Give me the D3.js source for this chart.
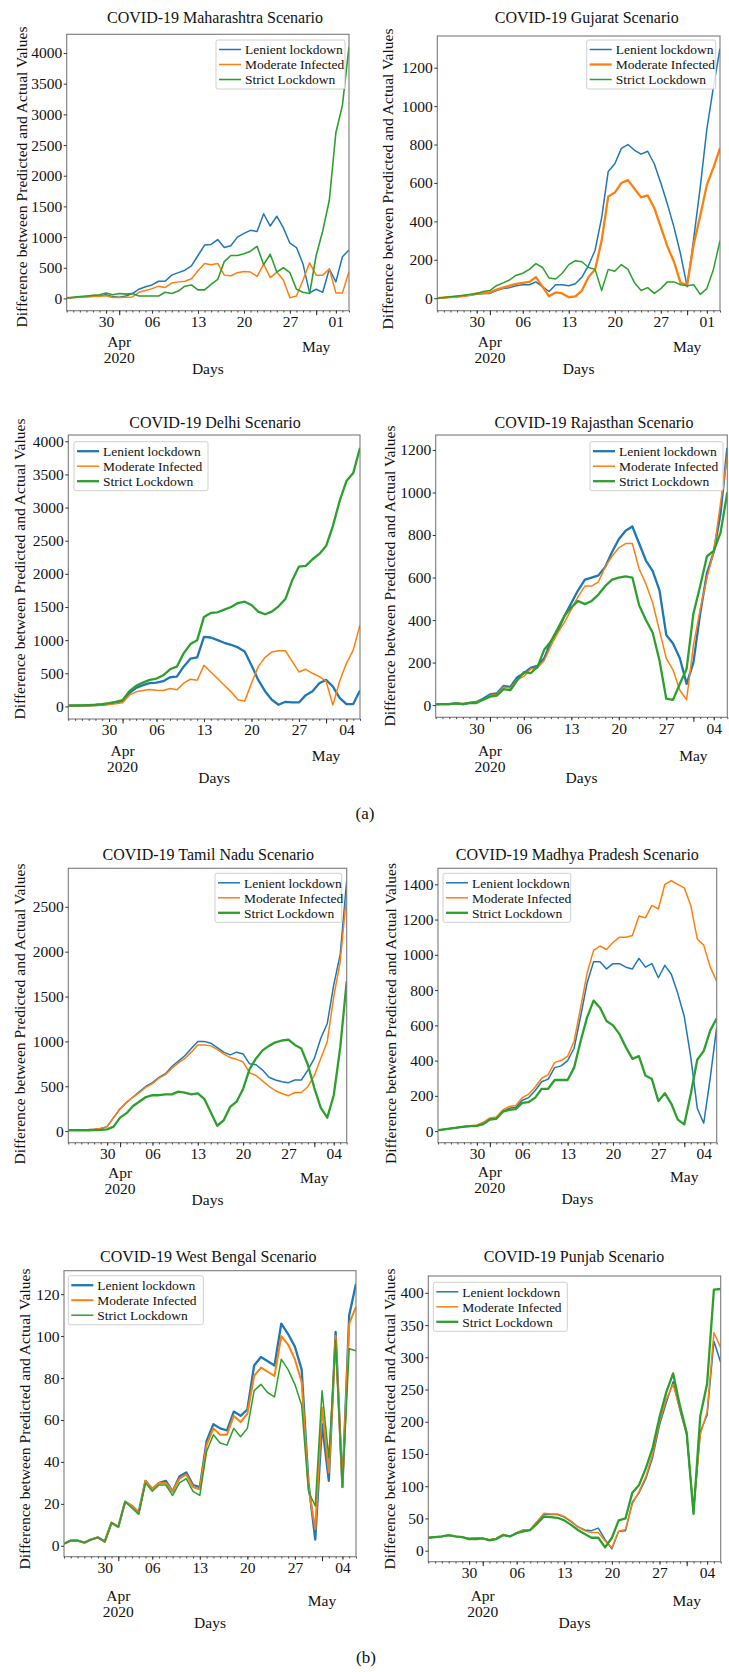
<!DOCTYPE html>
<html>
<head>
<meta charset="utf-8">
<script src="https://cdnjs.cloudflare.com/ajax/libs/d3/7.8.5/d3.min.js"></script>
<style>
  body { margin: 0; background: #fff; }
  text { font-family: "Liberation Serif", "Times New Roman", serif; fill: #111; }
</style>
</head>
<body>
<svg id="chart" width="729" height="1672"></svg>
<script>
// daily values, 24 Mar 2020 .. 06 May 2020 (44 days)
const startDate = new Date(2020, 2, 24);
const seriesNames = ["Lenient lockdown", "Moderate Infected", "Strict Lockdown"];
const colors = ["#1f77b4", "#ff7f0e", "#2ca02c"];

const states = ["Maharashtra", "Gujarat", "Delhi", "Rajasthan", "Tamil Nadu", "Madhya Pradesh", "West Bengal", "Punjab"];
const weekLabelsA = ["30", "06", "13", "20", "27", "01"];
const weekLabelsB = ["30", "06", "13", "20", "27", "04"];
const yStep = [500, 200, 500, 200, 500, 200, 20, 50];

const maharashtra = [
  [5,15,25,30,35,45,60,30,20,40,80,150,190,220,280,280,380,420,460,530,700,870,880,960,830,860,1000,1060,1110,1090,1380,1180,1340,1150,900,830,560,90,150,100,480,270,680,790],
  [5,10,20,25,30,35,45,15,15,20,25,100,130,160,200,180,250,270,280,320,450,570,550,570,380,370,420,440,430,360,560,340,430,300,10,40,300,580,380,380,480,90,90,440],
  [10,20,30,40,50,60,90,60,80,70,80,40,40,40,40,100,80,120,200,220,140,140,230,310,600,700,700,730,770,850,550,720,430,500,420,150,100,80,700,1100,1600,2700,3150,4100]
];
const gujarat = [
  [0,3,6,8,10,15,20,25,25,40,50,55,65,70,70,85,60,35,70,70,65,75,110,170,250,420,660,700,780,800,770,750,765,700,600,490,370,230,60,310,580,880,1100,1300],
  [0,3,6,8,12,18,25,25,30,45,55,65,75,80,85,110,60,10,30,25,5,10,40,110,150,300,530,550,600,615,570,525,535,470,370,270,190,80,70,280,430,590,680,780],
  [0,4,8,12,16,20,25,35,40,65,80,95,120,130,150,180,160,105,100,130,175,195,190,160,150,40,150,140,175,150,80,40,55,25,50,85,85,70,65,70,20,50,150,300]
];
const delhi = [
  [10,10,12,15,20,25,40,60,80,200,280,320,350,360,380,440,450,600,720,740,1050,1040,1000,960,930,890,830,620,400,230,100,25,70,60,60,170,230,350,400,300,130,35,35,240],
  [5,8,10,12,15,20,30,40,55,170,220,240,255,245,240,270,250,350,410,395,620,520,420,320,220,100,80,350,600,740,820,840,840,680,520,560,500,450,380,20,380,650,850,1230],
  [10,15,15,20,25,35,50,70,95,230,310,360,400,420,470,560,600,800,940,1000,1350,1410,1420,1460,1500,1560,1580,1530,1430,1390,1430,1510,1620,1900,2110,2120,2220,2300,2420,2720,3100,3400,3520,3900]
];
const rajasthan = [
  [5,5,5,8,5,10,15,30,50,55,90,85,130,150,175,185,220,300,350,420,480,540,590,600,610,650,720,780,820,840,760,680,630,540,330,290,220,100,200,430,620,720,900,1210],
  [5,5,5,8,8,10,15,25,45,50,85,80,120,135,170,175,210,280,340,390,450,510,560,560,580,650,700,740,760,760,640,570,480,350,220,165,70,25,280,450,600,720,950,1170],
  [3,5,5,8,5,10,10,25,40,45,75,70,115,155,150,180,260,300,360,420,460,490,475,490,520,560,590,600,605,600,470,400,340,210,30,25,100,170,430,560,700,725,810,1000]
];
const tamilNadu = [
  [10,10,12,15,20,30,50,150,250,320,380,440,500,540,600,640,720,780,840,920,1000,1000,980,930,880,850,880,860,750,740,680,600,570,550,540,570,570,680,810,1035,1200,1630,1970,2790],
  [10,10,12,15,20,30,50,150,250,320,380,430,490,530,590,630,700,760,810,880,960,960,950,910,860,820,800,770,650,620,560,500,450,420,395,430,430,495,620,810,1000,1500,1890,2640],
  [10,10,10,10,12,15,20,50,150,200,280,330,380,400,400,410,410,440,430,410,420,360,210,60,120,270,330,470,690,810,900,950,990,1010,1020,960,920,740,480,260,150,400,930,1670]
];
const madhyaPradesh = [
  [5,10,15,20,25,28,30,45,70,75,110,130,135,175,190,230,280,295,360,370,400,470,650,840,960,960,920,950,950,930,920,980,930,950,870,940,890,780,650,420,130,45,300,590],
  [5,10,15,20,25,30,35,50,75,80,120,140,145,190,210,250,300,320,390,400,425,510,700,895,1025,1050,1030,1070,1100,1100,1110,1220,1210,1280,1260,1400,1420,1400,1380,1280,1090,1055,930,850],
  [5,10,15,20,25,28,30,40,65,70,110,120,125,160,165,190,240,240,290,290,290,360,510,645,740,700,625,600,550,475,410,425,315,295,170,215,155,65,38,210,405,455,570,640]
];
const westBengal = [
  [1,2.5,2.5,1.5,3,4,2,11,9,21,19,16,31,27,30,31,26,33,35,29,28,50,58,56,55,64,62,65,86,90,88,86,106,101,95,84,30,3,58,31,102,28,110,125],
  [1,2.5,2.5,1.5,3,4,2,11,9,21,19,15.5,31,27,30,30,26,32,34,28,27,48,56,53,53,62,59,63,81,85,83,81,100,96,89,78,28,8,66,35,100,28,106,114],
  [1,2.5,2.5,1.5,3,4,2,11,9,21,18,15,30,26,29,29,24,30,32,26,24,45,53,49,48,56,52,56,74,77,73,71,89,84,77,67,26,19,74,42,98,28,94,93]
];
const punjab = [
  [20,21,22,24,22,21,19,20,19,17,19,25,22,28,32,33,45,57,56,56,52,45,37,32,31,35,17,3,30,31,75,90,112,145,195,230,262,218,180,60,185,210,325,292],
  [20,21,22,24,22,21,19,20,19,17,19,25,22,28,32,33,45,58,57,57,53,46,37,31,28,28,15,5,30,33,72,92,115,150,200,235,258,220,180,62,180,215,338,315],
  [20,21,22,24,22,21,18,18,19,16,18,24,22,27,30,32,42,53,52,51,47,40,32,26,20,20,5,20,47,50,90,102,128,160,207,246,275,225,183,57,209,259,405,406]
];

const allData = [maharashtra, gujarat, delhi, rajasthan, tamilNadu, madhyaPradesh, westBengal, punjab];

// panel placement in the page
const panels = [
  { x0: 66.7, x1: 349, y0: 34.3, y1: 310.7, tx: 215, ty: 17, lx: 21.7, lcy: 177, aprDy: 31, leg: [216, 40, 129], lw: [1.5, 1.5, 1.6], weeks: weekLabelsA },
  { x0: 437.3, x1: 720, y0: 36, y1: 310.7, tx: 586.7, ty: 17, lx: 387.3, lcy: 179, aprDy: 31, leg: [586.7, 40, 129], lw: [1.5, 2.3, 1.5], weeks: weekLabelsA },
  { x0: 68.3, x1: 360, y0: 435, y1: 719, tx: 215, ty: 422.7, lx: 20, lcy: 569, aprDy: 31.7, leg: [74, 441.7, 134], lw: [2.3, 1.5, 2.3], weeks: weekLabelsB },
  { x0: 435.7, x1: 727.3, y0: 435, y1: 717.3, tx: 594, ty: 422.7, lx: 390, lcy: 576, aprDy: 33.4, leg: [590, 441.7, 133], lw: [2.3, 1.5, 2.3], weeks: weekLabelsB },
  { x0: 68.3, x1: 346.7, y0: 868.3, y1: 1142.7, tx: 208.3, ty: 854.3, lx: 19.3, lcy: 1014, aprDy: 30, leg: [215, 873.3, 126.7], lw: [1.5, 1.5, 2.3], weeks: weekLabelsB },
  { x0: 438, x1: 716.7, y0: 868.3, y1: 1142.7, tx: 577.3, ty: 854.3, lx: 390.7, lcy: 1013.5, aprDy: 29, leg: [443, 873.3, 127.7], lw: [1.5, 1.5, 2.3], weeks: weekLabelsB },
  { x0: 64, x1: 356, y0: 1270.7, y1: 1556.7, tx: 208.3, ty: 1256.7, lx: 24.3, lcy: 1419, aprDy: 39, leg: [68.3, 1275.7, 135], lw: [2.3, 2, 1.5], weeks: weekLabelsB },
  { x0: 428.3, x1: 720.7, y0: 1276, y1: 1561.7, tx: 574, ty: 1256.7, lx: 390, lcy: 1419, aprDy: 34, leg: [433.3, 1282.3, 134], lw: [1.5, 1.5, 2.3], weeks: weekLabelsB }
];

const svg = d3.select("#chart");
svg.append("rect").attr("width", 729).attr("height", 1672).attr("fill", "#fff");

panels.forEach((p, k) => {
  const data = allData[k];
  const nDays = data[0].length;
  const dates = d3.range(nDays).map(i => d3.timeDay.offset(startDate, i));
  const endDate = dates[nDays - 1];

  const x = d3.scaleTime().domain([startDate, endDate]).range([p.x0, p.x1]);

  // matplotlib style 5% margins
  const lo = d3.min(data, s => d3.min(s));
  const hi = d3.max(data, s => d3.max(s));
  const pad = (hi - lo) * 0.05;
  const y = d3.scaleLinear().domain([lo - pad, hi + pad]).range([p.y1, p.y0]);

  const g = svg.append("g");

  const clipId = "clip" + k;
  g.append("clipPath").attr("id", clipId)
    .append("rect").attr("x", p.x0).attr("y", p.y0)
    .attr("width", p.x1 - p.x0).attr("height", p.y1 - p.y0);

  // series lines
  const line = d3.line().x((d, i) => x(dates[i])).y(d => y(d));
  data.forEach((s, j) => {
    g.append("path")
      .datum(s)
      .attr("clip-path", `url(#${clipId})`)
      .attr("fill", "none")
      .attr("stroke", colors[j])
      .attr("stroke-width", p.lw[j])
      .attr("stroke-linejoin", "round")
      .attr("d", line);
  });

  // frame
  g.append("rect")
    .attr("x", p.x0).attr("y", p.y0)
    .attr("width", p.x1 - p.x0).attr("height", p.y1 - p.y0)
    .attr("fill", "none").attr("stroke", "#7a7a7a").attr("stroke-width", 1.1);

  // y axis
  const yTicks = d3.range(0, hi + pad, yStep[k]);
  const yAxis = g.append("g")
    .attr("transform", `translate(${p.x0},0)`)
    .call(d3.axisLeft(y).tickValues(yTicks).tickSize(3).tickPadding(1.5).tickFormat(d3.format("d")));
  yAxis.select(".domain").remove();
  yAxis.selectAll("line").attr("stroke", "#333");
  yAxis.selectAll("text").style("font-size", "15.5px").attr("fill", "#111");

  // x axis: daily minor ticks, weekly labelled ticks, month ticks
  const dayAxis = g.append("g")
    .attr("transform", `translate(0,${p.y1})`)
    .call(d3.axisBottom(x).tickValues(dates).tickSize(1.8).tickFormat(""));
  dayAxis.select(".domain").remove();
  dayAxis.selectAll("line").attr("stroke", "#444");

  const weeks = d3.timeMonday.range(startDate, d3.timeDay.offset(endDate, 1));
  const weekAxis = g.append("g")
    .attr("transform", `translate(0,${p.y1})`)
    .call(d3.axisBottom(x).tickValues(weeks).tickSize(3).tickPadding(2)
      .tickFormat((d, i) => p.weeks[i]));
  weekAxis.select(".domain").remove();
  weekAxis.selectAll("line").attr("stroke", "#333");
  weekAxis.selectAll("text").style("font-size", "15.5px").attr("fill", "#111")
    .attr("y", 11).attr("dy", "0.35em");

  const months = d3.timeMonth.range(startDate, d3.timeDay.offset(endDate, 1));
  const monthAxis = g.append("g")
    .attr("transform", `translate(0,${p.y1})`)
    .call(d3.axisBottom(x).tickValues(months).tickSize(4.5).tickFormat(""));
  monthAxis.select(".domain").remove();
  monthAxis.selectAll("line").attr("stroke", "#222");

  months.forEach((m, i) => {
    if (i === 0) {
      g.append("text").attr("x", x(m)).attr("y", p.y1 + p.aprDy).attr("dy", "0.35em")
        .attr("text-anchor", "middle").style("font-size", "15.5px").text("Apr");
      g.append("text").attr("x", x(m)).attr("y", p.y1 + p.aprDy + 16).attr("dy", "0.35em")
        .attr("text-anchor", "middle").style("font-size", "15.5px").text("2020");
    } else {
      g.append("text").attr("x", x(m)).attr("y", p.y1 + p.aprDy + 4.5).attr("dy", "0.35em")
        .attr("text-anchor", "middle").style("font-size", "15.5px").text("May");
    }
  });

  // axis titles
  g.append("text")
    .attr("x", (p.x0 + p.x1) / 2).attr("y", p.y1 + p.aprDy + 27).attr("dy", "0.35em")
    .attr("text-anchor", "middle").style("font-size", "15.5px").text("Days");

  g.append("text")
    .attr("transform", `translate(${p.lx},${p.lcy}) rotate(-90)`)
    .attr("dy", "0.35em").attr("text-anchor", "middle")
    .style("font-size", "15.6px")
    .text("Difference between Predicted and Actual Values");

  g.append("text")
    .attr("x", p.tx).attr("y", p.ty).attr("dy", "0.35em")
    .attr("text-anchor", "middle").style("font-size", "16px")
    .text(`COVID-19 ${states[k]} Scenario`);

  // legend
  const [lx, ly, lw] = p.leg;
  const leg = g.append("g").attr("transform", `translate(${lx},${ly})`);
  leg.append("rect").attr("width", lw).attr("height", 49).attr("rx", 2)
    .attr("fill", "#fff").attr("fill-opacity", 0.85)
    .attr("stroke", "#d0d0d0").attr("stroke-width", 1);
  seriesNames.forEach((name, j) => {
    const ry = 9.5 + j * 15;
    leg.append("line").attr("x1", 3).attr("x2", 25).attr("y1", ry).attr("y2", ry)
      .attr("stroke", colors[j]).attr("stroke-width", p.lw[j]);
    leg.append("text").attr("x", 29).attr("y", ry).attr("dy", "0.35em")
      .style("font-size", "13.5px").text(name);
  });
});

// sub-figure captions
svg.append("text").attr("x", 365).attr("y", 813).attr("dy", "0.35em")
  .attr("text-anchor", "middle").style("font-size", "17px").text("(a)");
svg.append("text").attr("x", 366).attr("y", 1657).attr("dy", "0.35em")
  .attr("text-anchor", "middle").style("font-size", "17px").text("(b)");
</script>
</body>
</html>
